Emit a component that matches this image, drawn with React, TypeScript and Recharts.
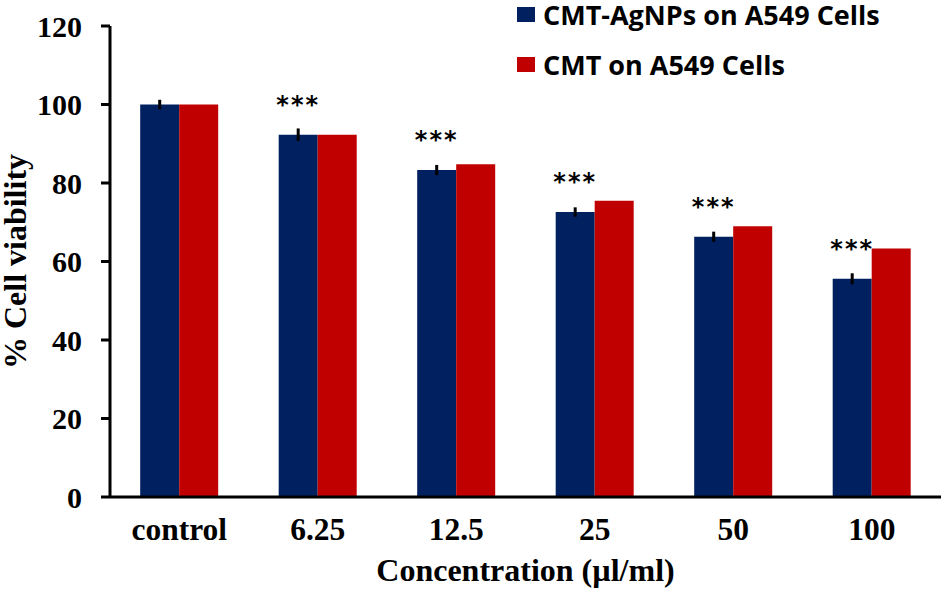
import { Bar, BarChart, ErrorBar, LabelList, XAxis, YAxis } from "recharts";

const categories = ["control", "6.25", "12.5", "25", "50", "100"];
const agnps = [100, 92.3, 83.3, 72.6, 66.3, 55.6];
const agnpsErr = [1.2, 1.6, 1.3, 1.2, 1.3, 1.4];
const cmt = [100, 92.3, 84.8, 75.5, 69.0, 63.3];
const marks = ["", "***", "***", "***", "***", "***"];
const yTicks = [0, 20, 40, 60, 80, 100, 120];

const data = categories.map((c, i) => ({
  name: c,
  agnps: agnps[i],
  err: agnpsErr[i],
  cmt: cmt[i],
  mark: marks[i],
}));

const serif = "'Liberation Serif', 'Times New Roman', serif";
const sans = "'Open Sans', 'Liberation Sans', sans-serif";

const Stars = (props: any) => {
  const { x, y, width, value } = props;
  if (!value) return null;
  return (
    <text
      x={x + width / 2}
      y={y - 22}
      textAnchor="middle"
      fontFamily="'DejaVu Sans', sans-serif"
      fontSize={24}
      fontWeight="bold"
      fill="#000"
      letterSpacing={2}
    >
      {value}
    </text>
  );
};

const rowStyle = { display: "flex", alignItems: "center", height: 28, lineHeight: 1 } as const;

export default function App() {
  return (
    <div style={{ position: "absolute", left: 0, top: 0, width: 941, height: 590, background: "#fff" }}>
      <BarChart
        width={941}
        height={590}
        data={data}
        margin={{ top: 26, right: 0, left: 0, bottom: 0 }}
        barCategoryGap="21.8%"
        barGap={0}
      >
        <XAxis
          dataKey="name"
          height={93}
          tickLine={false}
          axisLine={{ stroke: "#000", strokeWidth: 3 }}
          tick={{ fill: "#000", fontSize: 31.5, fontWeight: "bold", fontFamily: serif }}
          tickMargin={15}
          label={{
            value: "Concentration (µl/ml)",
            position: "insideBottom",
            offset: 9,
            fill: "#000",
            fontSize: 32,
            fontWeight: "bold",
            fontFamily: serif,
          }}
        />
        <YAxis
          width={110}
          domain={[0, 120]}
          ticks={yTicks}
          interval={0}
          tickSize={9}
          tickLine={{ stroke: "#000", strokeWidth: 3 }}
          axisLine={{ stroke: "#000", strokeWidth: 3 }}
          tick={{ fill: "#000", fontSize: 30, fontWeight: "bold", fontFamily: serif }}
          tickMargin={19}
          label={{
            value: "% Cell viability",
            angle: -90,
            position: "insideLeft",
            offset: 15,
            fill: "#000",
            fontSize: 32,
            fontWeight: "bold",
            fontFamily: serif,
            style: { textAnchor: "middle" },
          }}
        />
        <Bar dataKey="agnps" fill="#00205F" isAnimationActive={false}>
          <ErrorBar dataKey="err" direction="y" width={0} stroke="#000" strokeWidth={3} />
          <LabelList dataKey="mark" content={Stars} />
        </Bar>
        <Bar dataKey="cmt" fill="#C00000" isAnimationActive={false} />
      </BarChart>
      <div style={{ position: "absolute", left: 517, top: 0, fontFamily: sans, fontWeight: 700, fontSize: 27, color: "#000" }}>
        <div style={rowStyle}>
          <span style={{ width: 18, height: 15, background: "#00205F", marginRight: 8 }} />
          CMT-AgNPs on A549 Cells
        </div>
        <div style={{ ...rowStyle, marginTop: 22 }}>
          <span style={{ width: 18, height: 15, background: "#C00000", marginRight: 8 }} />
          CMT on A549 Cells
        </div>
      </div>
    </div>
  );
}
